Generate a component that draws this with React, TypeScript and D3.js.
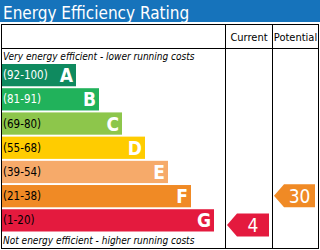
import * as d3 from 'd3';

const bands = ['A', 'B', 'C', 'D', 'E', 'F', 'G'];
const rangeLabels = ['(92-100)', '(81-91)', '(69-80)', '(55-68)', '(39-54)', '(21-38)', '(1-20)'];
const bandLow = [92, 81, 69, 55, 39, 21, 1];
const bandHigh = [100, 91, 80, 68, 54, 38, 20];
const bandColors = ['#0f8a5f', '#21b25b', '#8dc64b', '#ffcc00', '#f6aa6a', '#f08a25', '#e41a3e'];
const rangeLabelColors = ['#fff', '#fff', '#000', '#000', '#000', '#000', '#000'];
const columns = ['Current', 'Potential'];
const ratings = [4, 30];

const W = 320;
const H = 250;
const font = '"DejaVu Sans Condensed", "DejaVu Sans", sans-serif';

export default function App() {
  // layout of the table
  const left = 1.5, right = 318.5, top = 24.5, headBottom = 48.5, bottom = 248.5;
  const colX = [225.5, 272.5, right];

  const y = d3.scaleBand<string>().domain(bands).range([64, 231.5]).paddingInner(0.08);
  const barEnd = d3.scaleLinear().domain([0, bands.length - 1]).range([76, 214]);

  const bandOf = (v: number) => bandHigh.findIndex((h, i) => v <= h && v >= bandLow[i]);
  const arrowY = (v: number) => {
    const i = bandOf(v);
    const t = y(bands[i])!;
    const s = d3.scaleLinear().domain([bandHigh[i], bandLow[i]]).range([t + y.bandwidth() * 0.2, t + y.bandwidth() * 0.8]);
    return s(v);
  };

  const arrowPath = (x0: number, x1: number, cy: number, h: number) => {
    const tip = 10;
    return `M${x0},${cy} L${x0 + tip},${cy - h / 2} L${x1},${cy - h / 2} L${x1},${cy + h / 2} L${x0 + tip},${cy + h / 2} Z`;
  };

  return (
    <svg width={W} height={H} style={{ position: 'absolute', left: 0, top: 0, background: '#fff' }} fontFamily={font}>
      <rect x={0} y={0} width={W} height={22} fill="#1673bb" />
      <text x={3} y={19} fill="#fff" fontSize={17}>Energy Efficiency Rating</text>

      <rect x={left} y={top} width={right - left} height={bottom - top} fill="none" stroke="#000" />
      <line x1={left} x2={right} y1={headBottom} y2={headBottom} stroke="#000" />
      <line x1={colX[0]} x2={colX[0]} y1={top} y2={bottom} stroke="#000" />
      <line x1={colX[1]} x2={colX[1]} y1={top} y2={bottom} stroke="#000" />
      {columns.map((c, i) => (
        <text key={c} x={(colX[i] + colX[i + 1]) / 2} y={41} textAnchor="middle" fontSize={11} fill="#000">{c}</text>
      ))}

      <text x={3} y={60} fontSize={10} fontStyle="italic" fill="#000">Very energy efficient - lower running costs</text>
      <text x={3} y={244} fontSize={10} fontStyle="italic" fill="#000">Not energy efficient - higher running costs</text>

      {bands.map((b, i) => {
        const by = y(b)!;
        const bw = y.bandwidth();
        const xe = barEnd(i);
        return (
          <g key={b}>
            <rect x={2} y={by} width={xe - 2} height={bw} fill={bandColors[i]} />
            <text x={3} y={by + bw / 2 + 4} fontSize={11.5} fill={rangeLabelColors[i]}>{rangeLabels[i]}</text>
            <text x={xe - 3} y={by + bw / 2 + 7} textAnchor="end" fontSize={19} fontWeight="bold" fill="#fff">{b}</text>
          </g>
        );
      })}

      {ratings.map((r, i) => {
        const cy = arrowY(r);
        const x0 = colX[i] + 1.5;
        const x1 = colX[i + 1] - 3.5;
        return (
          <g key={i}>
            <path d={arrowPath(x0, x1, cy, 23)} fill={bandColors[bandOf(r)]} />
            <text x={(x0 + 10 + x1) / 2} y={cy + 7} textAnchor="middle" fontSize={19} fill="#fff">{r}</text>
          </g>
        );
      })}
    </svg>
  );
}
